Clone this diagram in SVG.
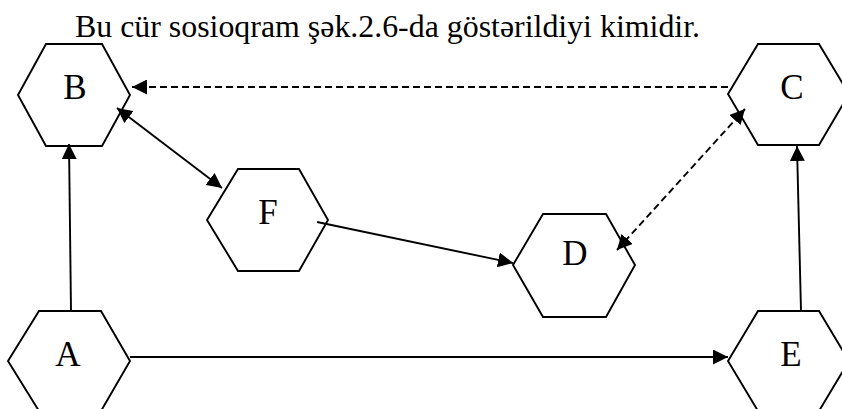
<svg xmlns="http://www.w3.org/2000/svg" width="842" height="409" viewBox="0 0 842 409">
  <style>
    .hex { fill: none; stroke: #000; stroke-width: 1.9; stroke-linejoin: miter; }
    .lbl { font-family: "Liberation Serif", "Times New Roman", serif; font-size: 35px; fill: #000; text-anchor: middle; }
    .title { font-family: "Liberation Serif", "Times New Roman", serif; font-size: 32px; fill: #000; }
    .edge { fill: none; stroke: #000; stroke-width: 1.9; }
    .dash { stroke-dasharray: 7 4; }
  </style>
  <defs>
    <marker id="head" viewBox="0 0 15 15" refX="15" refY="7.5" markerWidth="15" markerHeight="15" markerUnits="userSpaceOnUse" orient="auto-start-reverse">
      <path d="M0,0 L15,7.5 L0,15 z" fill="#000"/>
    </marker>
  </defs>
  <rect width="842" height="409" fill="#fff"/>

  <text class="title" x="75" y="37" textLength="625" lengthAdjust="spacingAndGlyphs">Bu cür sosioqram şək.2.6-da göstərildiyi kimidir.</text>

  <g id="connectors">
    <!-- A to B -->
    <line class="edge" x1="71" y1="311" x2="69" y2="144" marker-end="url(#head)"/>
    <!-- B and F, both ways -->
    <line class="edge" x1="117" y1="108" x2="222" y2="188" marker-start="url(#head)" marker-end="url(#head)"/>
    <!-- C to B, dashed -->
    <line class="edge dash" x1="728" y1="87" x2="132" y2="87" marker-end="url(#head)"/>
    <!-- D and C, both ways, dashed -->
    <line class="edge dash" x1="617" y1="250" x2="745" y2="109" marker-start="url(#head)" marker-end="url(#head)"/>
    <!-- F to D -->
    <line class="edge" x1="317" y1="222" x2="513" y2="263" marker-end="url(#head)"/>
    <!-- A to E -->
    <line class="edge" x1="130" y1="357" x2="728" y2="357" marker-end="url(#head)"/>
    <!-- E to C -->
    <line class="edge" x1="801" y1="311" x2="797" y2="146" marker-end="url(#head)"/>
  </g>

  <g id="node-B">
    <polygon class="hex" points="18,95 46,44 102,44 130,95 102,146 46,146"/>
    <text class="lbl" x="75" y="99">B</text>
  </g>
  <g id="node-C">
    <polygon class="hex" points="728,94 758,44 819,44 849,94 819,145 758,145"/>
    <text class="lbl" x="792" y="99">C</text>
  </g>
  <g id="node-F">
    <polygon class="hex" points="207,220 238,169 299,169 328,220 299,271 238,271"/>
    <text class="lbl" x="268" y="224">F</text>
  </g>
  <g id="node-D">
    <polygon class="hex" points="513,265 543,214 606,214 635,265 606,317 543,317"/>
    <text class="lbl" x="575" y="265">D</text>
  </g>
  <g id="node-A">
    <polygon class="hex" points="8,361 39,311 101,311 130,361 101,411 39,411"/>
    <text class="lbl" x="68" y="366">A</text>
  </g>
  <g id="node-E">
    <polygon class="hex" points="728,361 758,311 819,311 849,361 819,411 758,411"/>
    <text class="lbl" x="791" y="366">E</text>
  </g>
</svg>
